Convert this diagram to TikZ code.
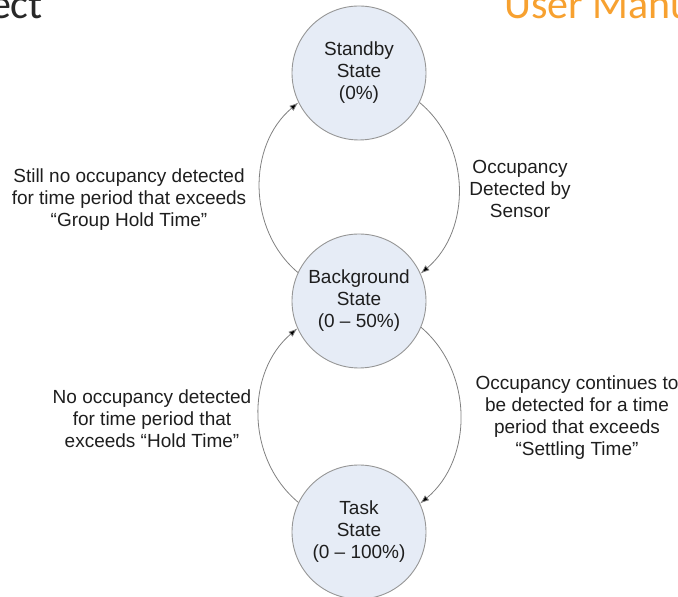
\documentclass[tikz,border=0pt]{standalone}
\usepackage{fontspec}
\setmainfont{Liberation Sans}
\newfontfamily\headfont{Carlito}
\usetikzlibrary{arrows.meta}
\definecolor{statefill}{RGB}{230,236,246}
\definecolor{stateline}{RGB}{150,150,150}
\definecolor{arcline}{RGB}{128,128,128}
\definecolor{txt}{RGB}{30,30,30}
\definecolor{headorange}{RGB}{247,161,48}
\definecolor{headgray}{RGB}{40,40,40}
\tikzset{
  statenode/.style={circle, draw=stateline, line width=0.9pt, fill=statefill,
    minimum size=134pt, inner sep=0pt, align=center, text=txt,
    font=\fontsize{19}{22}\selectfont},
  lbl/.style={align=center, text=txt, font=\fontsize{19}{22}\selectfont, inner sep=0pt},
  trans/.style={draw=arcline, line width=0.8pt, bend left=50,
    -{Latex[length=9pt,width=6.5pt,fill=black]}},
  head/.style={inner sep=0pt, font=\headfont\fontsize{42}{42}\selectfont}
}
\begin{document}
\begin{tikzpicture}[x=1pt,y=1pt]
\useasboundingbox (0,0) rectangle (678,597);
\begin{scope}
\clip (0,0) rectangle (678,597);
\node[head, text=headgray, anchor=base east] (hl) at (43,578) {ect};
\node[head, text=headorange, anchor=base west] (hr) at (504,578) {User Manual};
\node[statenode] (sb) at (359,524) {Standby\\State\\(0\%)};
\node[statenode] (bg) at (359,296) {Background\\State\\(0 – 50\%)};
\node[statenode] (tk) at (359,65) {Task\\State\\(0 – 100\%)};
\end{scope}
\draw[trans] (bg.155) to (sb.206);
\draw[trans] (sb.334) to (bg.24);
\draw[trans] (tk.154) to (bg.204);
\draw[trans] (bg.337) to (tk.25);
\node[lbl] (l1) at (129,397) {Still no occupancy detected\\for time period that exceeds\\“Group Hold Time”};
\node[lbl] (l2) at (520,408) {Occupancy\\Detected by\\Sensor};
\node[lbl] (l3) at (152,178) {No occupancy detected\\for time period that\\exceeds “Hold Time”};
\node[lbl] (l4) at (577,179) {Occupancy continues to\\be detected for a time\\period that exceeds\\“Settling Time”};
\end{tikzpicture}
\end{document}
